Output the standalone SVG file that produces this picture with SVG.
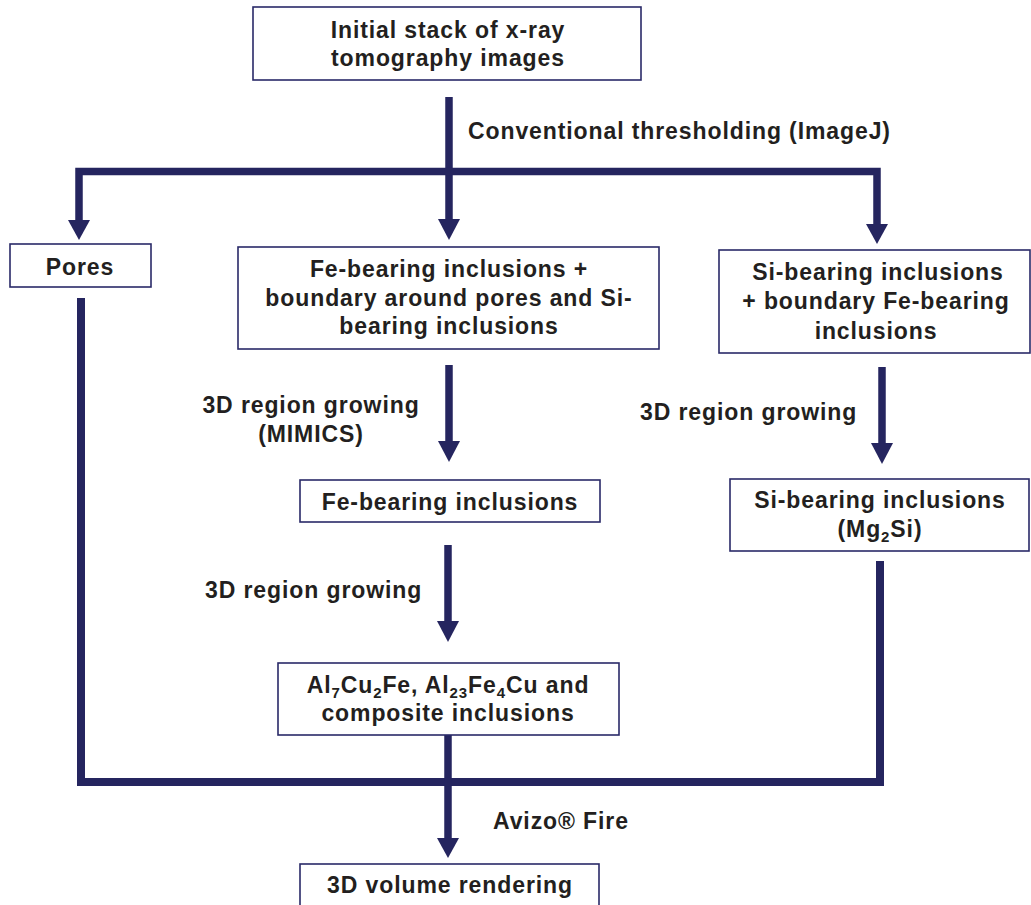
<svg xmlns="http://www.w3.org/2000/svg" width="1031" height="905" viewBox="0 0 1031 905">
<style>
.box{fill:#fff;stroke:#2a2a68;stroke-width:1.6}
.t{font-family:"Liberation Sans",Arial,sans-serif;font-weight:bold;font-size:23px;letter-spacing:0.9px;fill:#231f20}
.c{text-anchor:middle}
.ln{fill:none;stroke:#25255f;stroke-width:7.5;stroke-linejoin:miter;stroke-linecap:butt}
.hd{fill:#25255f}
.sub{font-size:15px}
</style>
<rect width="1031" height="905" fill="#fff"/>
<g id="connectors">
<path class="ln" d="M449,97 V221"/>
<polygon class="hd" points="438,219 460,219 449,240"/>
<path class="ln" d="M79,222 V171.5 H877 V226"/>
<polygon class="hd" points="68,220 90,220 79,240"/>
<polygon class="hd" points="866,224 888,224 877,244"/>
<path class="ln" d="M449,365 V443"/>
<polygon class="hd" points="438,441 460,441 449,462"/>
<path class="ln" d="M448,545 V623"/>
<polygon class="hd" points="437,621 459,621 448,642"/>
<path class="ln" d="M882,367 V445"/>
<polygon class="hd" points="871,443 893,443 882,464"/>
<path class="ln" d="M81,298 V782 H880 V561" style="stroke-width:8"/>
<path class="ln" d="M448,735 V840"/>
<polygon class="hd" points="437,838 459,838 448,858"/>
<text class="t" x="468" y="139">Conventional thresholding (ImageJ)</text>
<text class="t c" x="311" y="413">3D region growing</text>
<text class="t c" x="311" y="442">(MIMICS)</text>
<text class="t" x="205" y="598">3D region growing</text>
<text class="t" x="640" y="420">3D region growing</text>
<text class="t" x="493" y="829">Avizo® Fire</text>
</g>
<g id="n-initial">
<rect class="box" x="253" y="7" width="388" height="73"/>
<text class="t c" x="448" y="38">Initial stack of x-ray</text>
<text class="t c" x="448" y="66">tomography images</text>
</g>
<g id="n-pores">
<rect class="box" x="10" y="244" width="141" height="43"/>
<text class="t c" x="80" y="275">Pores</text>
</g>
<g id="n-fe-boundary">
<rect class="box" x="238" y="247" width="421" height="102"/>
<text class="t c" x="449" y="277">Fe-bearing inclusions +</text>
<text class="t c" x="449" y="306">boundary around pores and Si-</text>
<text class="t c" x="449" y="334">bearing inclusions</text>
</g>
<g id="n-si-boundary">
<rect class="box" x="719" y="250" width="311" height="103"/>
<text class="t c" x="878" y="280">Si-bearing inclusions</text>
<text class="t c" x="876" y="309">+ boundary Fe-bearing</text>
<text class="t c" x="876" y="339">inclusions</text>
</g>
<g id="n-fe">
<rect class="box" x="300" y="480" width="300" height="42"/>
<text class="t c" x="450" y="510">Fe-bearing inclusions</text>
</g>
<g id="n-si">
<rect class="box" x="730" y="479" width="299" height="72"/>
<text class="t c" x="880" y="508">Si-bearing inclusions</text>
<text class="t c" x="880" y="537">(Mg<tspan class="sub" dy="5">2</tspan><tspan dy="-5">Si)</tspan></text>
</g>
<g id="n-al">
<rect class="box" x="278" y="663" width="341" height="72"/>
<text class="t c" x="448" y="693">Al<tspan class="sub" dy="5">7</tspan><tspan dy="-5">Cu</tspan><tspan class="sub" dy="5">2</tspan><tspan dy="-5">Fe, Al</tspan><tspan class="sub" dy="5">23</tspan><tspan dy="-5">Fe</tspan><tspan class="sub" dy="5">4</tspan><tspan dy="-5">Cu and</tspan></text>
<text class="t c" x="448" y="721">composite inclusions</text>
</g>
<g id="n-render">
<rect class="box" x="300" y="864" width="299" height="50"/>
<text class="t c" x="450" y="893">3D volume rendering</text>
</g>
</svg>
